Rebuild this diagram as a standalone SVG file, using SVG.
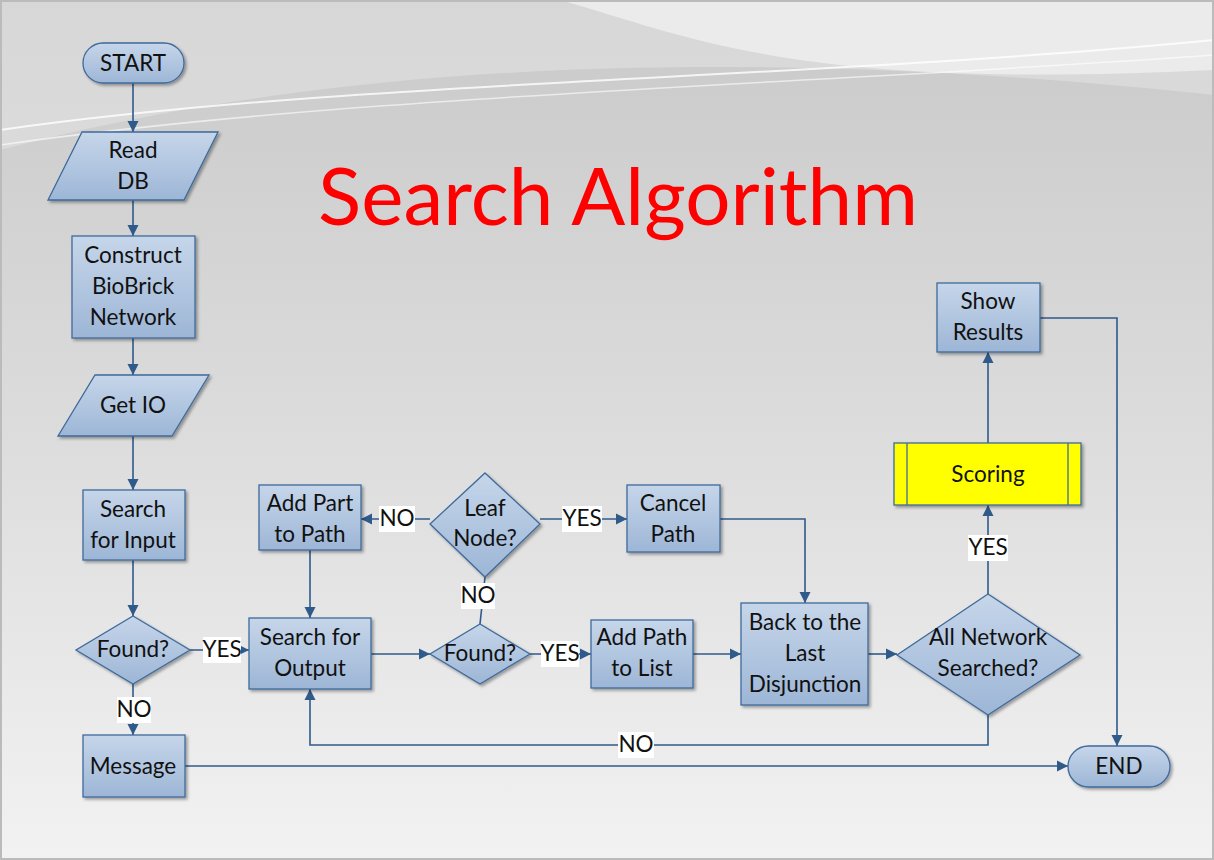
<svg xmlns="http://www.w3.org/2000/svg" width="1214" height="860" viewBox="0 0 1214 860">
<defs>
<linearGradient id="bg" x1="0" y1="0" x2="0" y2="1"><stop offset="0" stop-color="#c9c9c9"/><stop offset="0.5" stop-color="#dcdcdc"/><stop offset="1" stop-color="#f2f2f2"/></linearGradient>
<linearGradient id="nf" x1="0" y1="0" x2="0" y2="1"><stop offset="0" stop-color="#c6d6ea"/><stop offset="1" stop-color="#9db6d6"/></linearGradient>
<filter id="sh" x="-10%" y="-10%" width="130%" height="130%"><feDropShadow dx="2" dy="2" stdDeviation="1.5" flood-color="#000" flood-opacity="0.35"/></filter>
<marker id="ar" viewBox="0 0 10 10" refX="10" refY="5" markerWidth="7" markerHeight="7" orient="auto"><path d="M0,0 L10,5 L0,10 z" fill="#2f5a8a"/></marker>
</defs>
<style>
.n{fill:url(#nf);stroke:#3f6a9a;stroke-width:1.3;filter:url(#sh)}
.t{font-family:Lato,"Open Sans",sans-serif;font-size:22.5px;fill:#111;text-anchor:middle}
.c{fill:none;stroke:#2f5a8a;stroke-width:1.6}
.a{marker-end:url(#ar)}
.lb{fill:#fff}
</style>
<rect width="1214" height="860" fill="url(#bg)"/>
<path d="M560,0 C700,40 800,90 1214,70 L1214,0 Z" fill="#f4f4f4" opacity="0.9"/>
<path d="M0,150 C300,70 700,40 1214,95 L1214,0 L0,0 Z" fill="#e6e6e6" opacity="0.5"/>
<path d="M0,130 C350,80 800,80 1214,40" fill="none" stroke="#fff" stroke-width="2" opacity="0.8"/>
<path d="M0,145 C350,95 800,85 1214,55" fill="none" stroke="#fff" stroke-width="1.5" opacity="0.6"/>
<rect x="0.5" y="0.5" width="1213" height="859" fill="none" stroke="#bbb" stroke-width="3"/>
<text x="618" y="225" font-family="Lato,'Open Sans',sans-serif" font-size="80" fill="#ff0000" text-anchor="middle">Search Algorithm</text>

<g id="connectors">
<path class="c a" d="M133,83 V132"/>
<path class="c a" d="M133,200 V236"/>
<path class="c a" d="M133,338 V375"/>
<path class="c a" d="M133,436 V490"/>
<path class="c a" d="M133,560 V616"/>
<path class="c a" d="M190,650 H249"/>
<path class="c a" d="M133,684 V735"/>
<path class="c a" d="M185,766 H1068"/>
<path class="c a" d="M371,654 H430"/>
<path class="c a" d="M530,654 H591"/>
<path class="c" d="M485,577 L480,624"/>
<path class="c a" d="M430,519 H361"/>
<path class="c a" d="M540,519 H627"/>
<path class="c a" d="M720,519 H805 V603"/>
<path class="c a" d="M310,550 V618"/>
<path class="c a" d="M693,654 H741"/>
<path class="c a" d="M868,654 H897"/>
<path class="c a" d="M988,594 V505"/>
<path class="c a" d="M988,443 V352"/>
<path class="c a" d="M1040,318 H1117 V746"/>
<path class="c a" d="M988,715 V745 H310 V689"/>
<rect class="lb" x="203" y="637" width="38" height="26"/><text class="t" x="222" y="657" font-size="20">YES</text>
<rect class="lb" x="117" y="697" width="34" height="26"/><text class="t" x="134" y="717" font-size="20">NO</text>
<rect class="lb" x="541" y="641" width="38" height="26"/><text class="t" x="560" y="661" font-size="20">YES</text>
<rect class="lb" x="461" y="583" width="34" height="26"/><text class="t" x="478" y="603" font-size="20">NO</text>
<rect class="lb" x="379" y="506" width="36" height="26"/><text class="t" x="397" y="526" font-size="20">NO</text>
<rect class="lb" x="562" y="506" width="40" height="26"/><text class="t" x="582" y="526" font-size="20">YES</text>
<rect class="lb" x="968" y="535" width="40" height="26"/><text class="t" x="988" y="555" font-size="20">YES</text>
<rect class="lb" x="618" y="732" width="36" height="26"/><text class="t" x="636" y="752" font-size="20">NO</text>
</g>

<g id="start"><rect class="n" x="83" y="43" width="101" height="40" rx="20"/><text class="t" x="133" y="71">START</text></g>
<g id="readdb"><polygon class="n" points="82,132 218,132 184,200 48,200"/><text class="t" x="133" y="158">Read</text><text class="t" x="133" y="189">DB</text></g>
<g id="construct"><rect class="n" x="72" y="236" width="123" height="102"/><text class="t" x="133" y="263">Construct</text><text class="t" x="133" y="294">BioBrick</text><text class="t" x="133" y="325">Network</text></g>
<g id="getio"><polygon class="n" points="95,375 209,375 172,436 58,436"/><text class="t" x="133" y="413">Get IO</text></g>
<g id="searchinput"><rect class="n" x="83" y="490" width="102" height="70"/><text class="t" x="133" y="517">Search</text><text class="t" x="133" y="548">for Input</text></g>
<g id="found1"><polygon class="n" points="133,616 190,650 133,684 76,650"/><text class="t" x="133" y="657">Found?</text></g>
<g id="message"><rect class="n" x="83" y="735" width="102" height="62"/><text class="t" x="133" y="774">Message</text></g>
<g id="searchoutput"><rect class="n" x="249" y="618" width="122" height="71"/><text class="t" x="310" y="645">Search for</text><text class="t" x="310" y="676">Output</text></g>
<g id="addpart"><rect class="n" x="259" y="485" width="102" height="65"/><text class="t" x="310" y="511">Add Part</text><text class="t" x="310" y="542">to Path</text></g>
<g id="leaf"><polygon class="n" points="485,473 540,524 485,577 430,524"/><text class="t" x="485" y="516">Leaf</text><text class="t" x="485" y="546">Node?</text></g>
<g id="cancel"><rect class="n" x="627" y="485" width="93" height="67"/><text class="t" x="673" y="511">Cancel</text><text class="t" x="673" y="542">Path</text></g>
<g id="found2"><polygon class="n" points="480,624 530,654 480,684 430,654"/><text class="t" x="480" y="661">Found?</text></g>
<g id="addpath"><rect class="n" x="591" y="620" width="102" height="68"/><text class="t" x="642" y="645">Add Path</text><text class="t" x="642" y="676">to List</text></g>
<g id="back"><rect class="n" x="741" y="603" width="127" height="102"/><text class="t" x="805" y="630">Back to the</text><text class="t" x="805" y="661">Last</text><text class="t" x="805" y="692">Disjunction</text></g>
<g id="allnet"><polygon class="n" points="988,594 1080,655 988,715 897,655"/><text class="t" x="988" y="645">All Network</text><text class="t" x="988" y="676">Searched?</text></g>
<g id="scoring"><rect x="894" y="443" width="187" height="62" fill="#ffff00" stroke="#3f6a9a" stroke-width="1.3" filter="url(#sh)"/><line x1="907" y1="443" x2="907" y2="505" stroke="#3f6a9a" stroke-width="1.3"/><line x1="1068" y1="443" x2="1068" y2="505" stroke="#3f6a9a" stroke-width="1.3"/><text class="t" x="988" y="482">Scoring</text></g>
<g id="show"><rect class="n" x="937" y="283" width="103" height="69"/><text class="t" x="988" y="309">Show</text><text class="t" x="988" y="340">Results</text></g>
<g id="end"><rect class="n" x="1068" y="746" width="102" height="41" rx="20.5"/><text class="t" x="1119" y="774">END</text></g>
</svg>
